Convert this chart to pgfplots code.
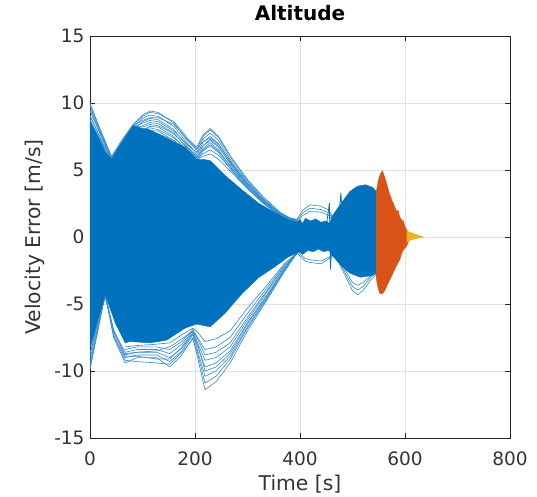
\documentclass[border=0pt]{standalone}
\usepackage{pgfplots}
\pgfplotsset{compat=1.18}
\usepackage{fontspec}
\setmainfont{DejaVu Sans}
\definecolor{mblue}{HTML}{0072BD}
\definecolor{lblue}{HTML}{3A8FD0}
\definecolor{morange}{HTML}{D95319}
\definecolor{myellow}{HTML}{EDB120}
\definecolor{axgray}{HTML}{262626}
\begin{document}
\begin{tikzpicture}
\useasboundingbox (-90pt,-58pt) rectangle (447pt,438pt);
\begin{axis}[at={(0pt,0pt)}, anchor=south west, scale only axis,
  width=420pt, height=402pt,
  xmin=0, xmax=800, ymin=-15, ymax=15,
  xtick={0,200,400,600,800}, ytick={-15,-10,-5,0,5,10,15},
  xticklabels={0,200,400,600,800}, yticklabels={-15,-10,-5,0,5,10,15},
  grid=major, major grid style={line width=0.6pt, draw=black!12},
  tick align=inside, major tick length=5pt,
  axis line style={draw=axgray, line width=0.8pt},
  tick style={draw=axgray, line width=0.8pt},
  ticklabel style={font=\fontsize{18.5}{22}\selectfont, text=black!80},
  xticklabel style={anchor=base, yshift=-27pt},
  yticklabel style={anchor=east, xshift=-2pt},
  title={Altitude},
  title style={at={(axis description cs:0.5,1.0224)}, anchor=base, font=\fontsize{20}{24}\selectfont\bfseries},
  xlabel={Time [s]}, ylabel={Velocity Error [m/s]},
  xlabel style={at={(axis description cs:0.5,-0.1294)}, anchor=base, font=\fontsize{20.3}{24}\selectfont, text=black!80},
  ylabel style={at={(axis description cs:-0.1167,0.5)}, anchor=base, font=\fontsize{20.3}{24}\selectfont, text=black!80},
  every axis plot/.append style={line join=round},
]
% outer trajectories (upper)
\addplot[lblue, line width=0.65pt] coordinates {(0,10)(20,8.0)(41,6.0)(60,7.2)(82,8.4)(100,9.1)(114,9.4)(130,9.3)(160,8.5)(185,7.2)(203,6.5)(215,7.5)(229,8.0)(245,7.4)(270,5.8)(300,4.2)(330,2.9)(362,1.8)(380,1.4)(394,1.3)};
\addplot[lblue, line width=0.65pt] coordinates {(0,9.85)(20,7.9)(41,5.95)(60,7.1)(82,8.35)(100,9.0)(114,9.3)(130,9.2)(160,8.6)(185,7.4)(203,6.7)(215,7.6)(229,8.1)(245,7.5)(270,5.9)(300,4.3)(330,3.0)(362,1.85)(380,1.45)(394,1.3)};
\addplot[lblue, line width=0.65pt] coordinates {(0,9.7)(20,7.8)(41,5.9)(60,7.0)(82,8.2)(100,8.85)(114,9.1)(130,9.0)(160,8.25)(185,7.0)(203,6.3)(215,7.3)(229,7.75)(245,7.2)(270,5.6)(300,4.1)(330,2.8)(362,1.75)(380,1.4)(394,1.3)};
\addplot[lblue, line width=0.65pt] coordinates {(0,9.5)(20,7.7)(41,5.85)(60,7.0)(82,8.3)(100,8.7)(114,8.9)(130,8.9)(160,8.4)(185,7.3)(203,6.6)(215,7.1)(229,7.4)(245,6.9)(270,5.5)(300,4.0)(330,2.8)(362,1.75)(380,1.4)(394,1.3)};
\addplot[lblue, line width=0.65pt] coordinates {(0,9.4)(20,7.6)(41,5.8)(60,6.9)(82,8.0)(100,8.6)(114,8.85)(130,8.75)(160,8.0)(185,6.8)(203,6.1)(215,7.05)(229,7.5)(245,6.95)(270,5.45)(300,3.95)(330,2.75)(362,1.7)(380,1.35)(394,1.25)};
\addplot[lblue, line width=0.65pt] coordinates {(0,9.1)(20,7.3)(41,5.6)(60,6.7)(82,7.9)(100,8.3)(114,8.55)(130,8.45)(160,7.75)(185,6.6)(203,5.9)(215,6.8)(229,7.3)(245,6.75)(270,5.3)(300,3.85)(330,2.65)(362,1.65)(380,1.3)(394,1.2)};
\addplot[lblue, line width=0.65pt] coordinates {(0,9.0)(20,7.4)(41,5.7)(60,6.8)(82,8.2)(100,8.5)(114,8.7)(130,8.6)(160,7.9)(185,6.9)(203,6.3)(215,6.8)(229,7.2)(245,6.7)(270,5.4)(300,3.9)(330,2.7)(362,1.7)(380,1.35)(394,1.25)};
\addplot[lblue, line width=0.65pt] coordinates {(0,8.8)(20,7.0)(41,5.4)(60,6.5)(82,7.8)(100,8.0)(114,8.25)(130,8.2)(160,7.5)(185,6.35)(203,5.7)(215,6.6)(229,7.05)(245,6.5)(270,5.1)(300,3.7)(330,2.55)(362,1.6)(380,1.25)(394,1.15)};
\addplot[lblue, line width=0.65pt] coordinates {(0,8.7)(20,7.2)(41,5.65)(60,6.9)(82,8.3)(100,8.2)(114,8.4)(130,8.3)(160,7.7)(185,6.7)(203,6.0)(215,6.5)(229,6.9)(245,6.4)(270,5.2)(300,3.8)(330,2.65)(362,1.7)(380,1.3)(394,1.2)};
\addplot[lblue, line width=0.65pt] coordinates {(82,8.3)(100,8.0)(114,8.15)(130,8.0)(160,7.4)(185,6.5)(203,5.9)(215,6.2)(229,6.5)(245,6.1)(270,5.0)(300,3.7)(330,2.6)(362,1.65)(380,1.3)(394,1.2)};
\addplot[lblue, line width=0.65pt] coordinates {(82,7.7)(100,7.75)(114,7.95)(130,7.9)(160,7.2)(185,6.1)(203,5.5)(215,6.4)(229,6.8)(245,6.3)(270,4.95)(300,3.6)(330,2.5)(362,1.55)(380,1.2)(394,1.1)};
\addplot[lblue, line width=0.65pt] coordinates {(82,8.3)(100,7.9)(114,7.9)(130,7.7)(160,7.2)(185,6.4)(203,5.8)(215,6.0)(229,6.2)(245,5.8)(270,4.8)(300,3.6)(330,2.55)(362,1.6)};
% outer trajectories (lower)
\addplot[lblue, line width=0.65pt] coordinates {(0,-9.9)(15,-7.0)(29,-4.2)(45,-7.5)(67,-9.4)(90,-9.0)(127,-9.0)(152,-9.7)(175,-8.8)(196,-7.5)(205,-9.0)(219,-11.4)(240,-10.8)(267,-9.4)(300,-7.0)(337,-4.7)(370,-2.6)(394,-1.2)};
\addplot[lblue, line width=0.65pt] coordinates {(0,-9.7)(15,-6.9)(29,-4.25)(45,-7.4)(67,-9.2)(90,-9.3)(127,-9.4)(152,-9.5)(175,-8.6)(196,-7.6)(205,-8.7)(219,-10.9)(240,-10.4)(267,-9.1)(300,-6.8)(337,-4.6)(370,-2.55)(394,-1.2)};
\addplot[lblue, line width=0.65pt] coordinates {(0,-9.5)(15,-6.8)(29,-4.3)(45,-7.3)(67,-9.0)(90,-8.8)(127,-8.8)(152,-9.3)(175,-8.5)(196,-7.3)(205,-8.5)(219,-10.4)(240,-10.0)(267,-8.9)(300,-6.7)(337,-4.5)(370,-2.5)(394,-1.2)};
\addplot[lblue, line width=0.65pt] coordinates {(0,-9.2)(15,-6.6)(29,-4.4)(45,-7.1)(67,-8.8)(90,-8.6)(127,-8.6)(152,-9.0)(175,-8.3)(196,-7.2)(205,-8.2)(219,-9.7)(240,-9.4)(267,-8.5)(300,-6.4)(337,-4.3)(370,-2.4)(394,-1.2)};
\addplot[lblue, line width=0.65pt] coordinates {(0,-8.7)(15,-6.3)(29,-4.3)(45,-6.9)(67,-8.9)(90,-8.9)(127,-9.1)(152,-9.1)(175,-8.2)(196,-7.1)(205,-8.0)(219,-10.0)(240,-9.7)(267,-8.7)(300,-6.5)(337,-4.4)(370,-2.45)(394,-1.2)};
\addplot[lblue, line width=0.65pt] coordinates {(0,-8.9)(15,-6.4)(29,-4.5)(45,-7.0)(67,-8.6)(90,-8.4)(127,-8.4)(152,-8.7)(175,-8.0)(196,-7.0)(205,-7.9)(219,-9.2)(240,-9.0)(267,-8.2)(300,-6.2)(337,-4.1)(370,-2.3)(394,-1.2)};
\addplot[lblue, line width=0.65pt] coordinates {(67,-8.7)(90,-8.6)(127,-8.5)(152,-8.2)(175,-7.6)(196,-7.0)(205,-7.5)(219,-8.4)(240,-8.2)(267,-7.5)(300,-5.7)(337,-3.8)(370,-2.1)(394,-1.2)};
\addplot[lblue, line width=0.65pt] coordinates {(67,-8.4)(90,-8.2)(127,-8.2)(152,-8.4)(175,-7.8)(196,-6.9)(205,-7.6)(219,-8.8)(240,-8.6)(267,-7.9)(300,-6.0)(337,-4.0)(370,-2.2)(394,-1.2)};
\addplot[lblue, line width=0.65pt] coordinates {(67,-8.2)(90,-8.1)(127,-8.0)(152,-7.9)(175,-7.3)(196,-6.8)(205,-7.1)(219,-7.8)(240,-7.6)(267,-7.0)(300,-5.3)(337,-3.6)(370,-2.0)(394,-1.2)};
% trajectories 380-545
\addplot[lblue, line width=0.65pt] coordinates {(380,1.4)(394,1.3)(405,2.0)(419,2.4)(440,2.3)(455,2.0)(465,1.3)};
\addplot[lblue, line width=0.65pt] coordinates {(380,1.3)(394,1.2)(405,1.8)(419,2.15)(440,2.05)(455,1.8)(465,1.2)};
\addplot[lblue, line width=0.65pt] coordinates {(380,1.2)(394,1.1)(405,1.6)(419,1.9)(440,1.85)(455,1.6)(465,1.1)};
\addplot[lblue, line width=0.65pt] coordinates {(380,-2.0)(394,-1.2)(410,-1.8)(419,-1.9)(440,-2.0)(460,-1.5)(470,-1.4)};
\addplot[lblue, line width=0.65pt] coordinates {(380,-1.8)(394,-1.1)(410,-1.6)(419,-1.7)(440,-1.8)(460,-1.4)(470,-1.3)};
\addplot[lblue, line width=0.65pt] coordinates {(470,-1.6)(485,-2.8)(500,-4.0)(510,-4.3)(520,-4.0)(535,-3.2)(545,-2.8)};
\addplot[lblue, line width=0.65pt] coordinates {(470,-1.5)(485,-2.6)(500,-3.7)(510,-3.95)(520,-3.7)(535,-3.0)(545,-2.7)};
\addplot[lblue, line width=0.65pt] coordinates {(470,-1.4)(485,-2.4)(500,-3.4)(510,-3.6)(520,-3.4)(535,-2.9)(545,-2.6)};
\addplot[mblue, line width=0.8pt] coordinates {(450,0.8)(456,2.5)(458,-2.4)(461,0)};
\addplot[mblue, line width=0.8pt] coordinates {(474,1.5)(478,3.3)(481,1.0)};
% dense blue region
\addplot[fill=mblue, draw=mblue, line width=0.4pt] coordinates {(0,8.6)(10,7.9)(20,7.1)(30,6.3)(41,5.8)(60,7.0)(82,8.3)(100,8.1)(114,8.0)(140,7.5)(160,7.1)(181,6.7)(203,5.8)(215,5.8)(229,5.7)(257,4.6)(290,3.5)(322,2.5)(353,1.8)(377,1.3)(394,1.1)(400,1.3)(405,1.0)(410,1.4)(420,1.2)(430,1.35)(440,1.1)(450,1.2)(456,1.0)(462,1.6)(480,2.6)(495,3.4)(510,3.8)(525,3.9)(538,3.7)(546,3.4)(546,-2.7)(535,-2.9)(515,-3.0)(495,-2.7)(480,-2.2)(462,-1.4)(455,-1.0)(445,-1.1)(435,-0.9)(425,-1.1)(415,-1.0)(405,-1.3)(398,-1.1)(394,-1.2)(377,-1.5)(353,-2.2)(322,-3.0)(290,-4.2)(257,-5.7)(229,-6.7)(203,-6.5)(181,-6.8)(146,-7.7)(114,-7.9)(76,-7.8)(67,-7.9)(48,-6.4)(29,-4.3)(15,-6.2)(0,-8.4)};
% orange region
\addplot[fill=morange, draw=morange, line width=0.4pt] coordinates {(545,3.3)(549,4.2)(553,4.7)(557,4.95)(561,4.5)(565,4.0)(570,3.3)(575,2.75)(580,2.3)(584,1.9)(587,2.0)(590,1.5)(594,1.25)(597,1.2)(600,0.75)(604,0.5)(607,0.2)(607,-0.3)(603,-0.7)(598,-0.9)(594,-1.2)(590,-1.7)(583,-2.2)(577,-2.7)(571,-3.2)(565,-3.7)(560,-4.1)(556,-4.25)(552,-4.2)(548,-3.7)(545,-3.0)};
% yellow region
\addplot[fill=myellow, draw=myellow, line width=0.4pt] coordinates {(603,0.45)(610,0.35)(620,0.2)(635,0.0)(620,-0.12)(610,-0.25)(603,-0.4)};
\end{axis}
\end{tikzpicture}
\end{document}
